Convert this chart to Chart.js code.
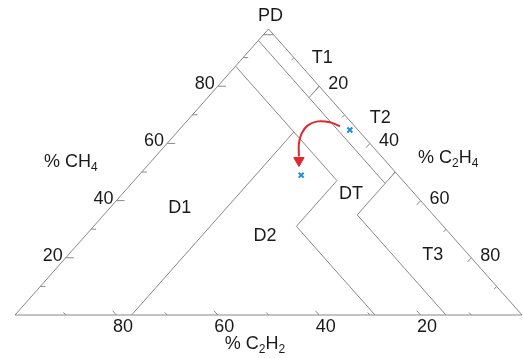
<!DOCTYPE html>
<html>
<head>
<meta charset="utf-8">
<script src="https://cdn.jsdelivr.net/npm/chart.js@4.4.0/dist/chart.umd.min.js"></script>
<style>
  body { margin: 0; background: #fff; }
  #wrap { width: 523px; height: 358px; }
</style>
</head>
<body>
<div id="wrap"><canvas id="duval"></canvas></div>
<script>
// every point is [CH4, C2H4]; C2H2 = 100 - CH4 - C2H4
const outline = [[100, 0], [0, 100], [0, 0], [100, 0]];
const zoneLines = [
  [[98, 0], [98, 2]],    // PD
  [[80, 20], [76, 20]],  // T1 / T2
  [[96, 0], [46, 50]],   // C2H2 = 4
  [[50, 50], [35, 50]],  // C2H4 = 50
  [[35, 50], [0, 85]],   // C2H2 = 15
  [[87, 0], [47, 40]],   // C2H2 = 13
  [[64, 23], [0, 23]],   // C2H4 = 23
  [[47, 40], [31, 40]],  // C2H4 = 40
  [[31, 40], [0, 71]]    // C2H2 = 29
];
const tickValues = [10, 20, 30, 40, 50, 60, 70, 80, 90];
const tickLabels = [20, 40, 60, 80];
const zoneNames = ["T1", "T2", "D1", "D2", "DT", "T3"];
const zonePos = [[89.8, 15.7], [68.9, 37.6], [37.4, 13.8], [27.6, 35.5], [42.3, 45.1], [21.0, 71.9]];
const samples = [[64.7, 33.7], [48.9, 32.0]];
const arrowPath = [[66.0, 31.1], [67.4, 28.4], [67.7, 25.9], [66.3, 24.6], [63.5, 24.8], [60.0, 26.0], [55.4, 28.3]];
const arrowHead = [[54.0, 29.0]];

const GREY = "rgb(135,135,135)";
const FONT = '"Liberation Sans", Arial, sans-serif';

function toXY(p) { return { x: p[1] + p[0] / 2, y: p[0] }; }

function lineSet(pts, color, width) {
  return {
    data: pts.map(toXY), showLine: true, borderColor: color, borderWidth: width,
    pointRadius: 0, clip: false, order: 2
  };
}

const datasets = [];
datasets.push(lineSet(outline, GREY, 1));
zoneLines.forEach(l => datasets.push(lineSet(l, GREY, 1)));
tickValues.forEach(v => {
  const major = tickLabels.includes(v);
  const a = major ? 1.6 : 1.0, b = major ? 1.5 : 0.9;
  datasets.push(lineSet([[v, 0], [v, a]], GREY, 1));                         // CH4 side
  datasets.push(lineSet([[0, 100 - v], [b, 100 - v - b]], GREY, 1));         // C2H2 side
  datasets.push(lineSet([[100 - v, v], [100 - v - b, v]], GREY, 1));         // C2H4 side
});
datasets.push({
  data: arrowPath.map(toXY), showLine: true, borderColor: "#e3262b", borderWidth: 2,
  tension: 0.4, pointRadius: 0, clip: false, order: 1
});
datasets.push({
  data: arrowHead.map(toXY), pointStyle: "triangle", rotation: 180, pointRadius: 6,
  backgroundColor: "#e3262b", borderColor: "#e3262b", borderWidth: 1, clip: false, order: 1
});
datasets.push({
  data: samples.map(toXY), pointStyle: "crossRot", pointRadius: 3.5,
  borderColor: "#1b8fdc", borderWidth: 2, clip: false, order: 0
});

function formula(ctx, parts, cx, cy) {
  let w = 0;
  parts.forEach(([t, sub]) => { ctx.font = (sub ? "12px " : "18px ") + FONT; w += ctx.measureText(t).width; });
  let x = cx - w / 2;
  ctx.textAlign = "left";
  parts.forEach(([t, sub]) => {
    ctx.font = (sub ? "12px " : "18px ") + FONT;
    ctx.fillText(t, x, sub ? cy + 6 : cy);
    x += ctx.measureText(t).width;
  });
}

const labelsPlugin = {
  id: "ternaryLabels",
  afterDatasetsDraw(chart) {
    const ctx = chart.ctx, sx = chart.scales.x, sy = chart.scales.y;
    const px = p => { const d = toXY(p); return [sx.getPixelForValue(d.x), sy.getPixelForValue(d.y)]; };
    ctx.save();
    ctx.fillStyle = "#1a1a1a";
    ctx.textBaseline = "middle";
    ctx.font = "18px " + FONT;
    ctx.textAlign = "center";
    zoneNames.forEach((n, i) => { const [x, y] = px(zonePos[i]); ctx.fillText(n, x, y); });
    const [ax, ay] = px([100, 0]);
    ctx.fillText("PD", ax + 2, ay - 13);
    tickLabels.forEach(v => {
      let [x, y] = px([v, 0]);
      ctx.textAlign = "right"; ctx.fillText(String(v), x - 3, y - 2);
      [x, y] = px([0, 100 - v]);
      ctx.textAlign = "center"; ctx.fillText(String(v), x + 6.5, y + 12.5);
      [x, y] = px([100 - v, v]);
      ctx.textAlign = "left"; ctx.fillText(String(v), x + 9, y - 2);
    });
    let [lx, ly] = px([50, 0]);
    formula(ctx, [["% CH", false], ["4", true]], lx - 71, ly - 10);
    [lx, ly] = px([50, 50]);
    formula(ctx, [["% C", false], ["2", true], ["H", false], ["4", true]], lx + 53, ly - 14);
    [lx, ly] = px([0, 50]);
    formula(ctx, [["% C", false], ["2", true], ["H", false], ["2", true]], lx - 13.5, ly + 29);
    ctx.restore();
  }
};

new Chart(document.getElementById("duval"), {
  type: "scatter",
  data: { datasets: datasets },
  options: {
    responsive: true,
    maintainAspectRatio: false,
    animation: false,
    layout: { autoPadding: false, padding: { left: 15, right: 1, top: 29, bottom: 43 } },
    plugins: { legend: { display: false }, tooltip: { enabled: false } },
    scales: {
      x: { type: "linear", min: 0, max: 100, display: false },
      y: { type: "linear", min: 0, max: 100, display: false }
    }
  },
  plugins: [labelsPlugin]
});
</script>
</body>
</html>
